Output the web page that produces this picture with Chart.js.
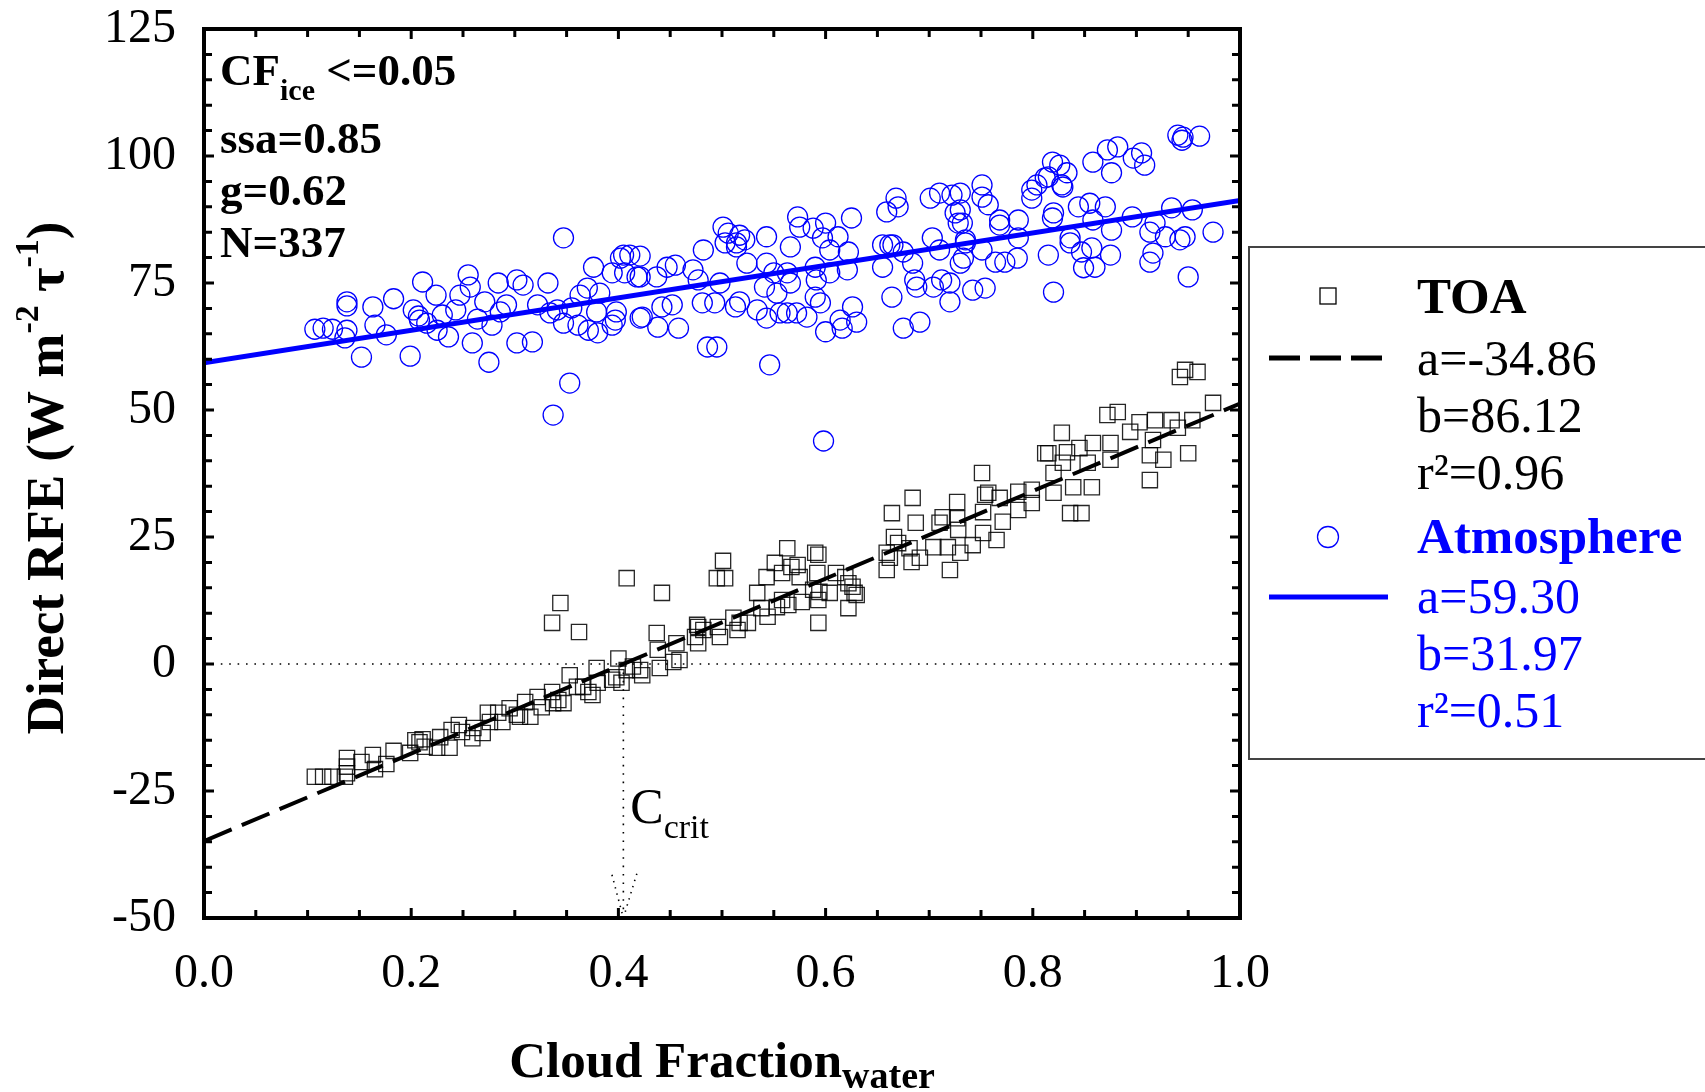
<!DOCTYPE html>
<html>
<head>
<meta charset="utf-8">
<script src="https://cdn.jsdelivr.net/npm/chart.js@4.4.0/dist/chart.umd.min.js"></script>
<style>
  html, body { margin: 0; padding: 0; background: #fff; }
  #wrap { width: 1705px; height: 1092px; position: relative; }
</style>
</head>
<body>
<div id="wrap"><canvas id="rfeChart" width="1705" height="1092"></canvas></div>
<script>
// values (cloud fraction vs direct RFE)
var atmX = [0.107,0.115,0.124,0.138,0.136,0.138,0.138,0.163,0.165,0.152,0.176,0.183,0.199,0.202,0.207,0.208,0.211,0.215,0.224,0.225,0.230,0.236,0.243,0.247,0.255,0.257,0.259,0.264,0.271,0.275,0.278,0.284,0.286,0.292,0.302,0.302,0.308,0.317,0.322,0.332,0.334,0.347,0.341,0.347,0.353,0.337,0.355,0.361,0.363,0.370,0.371,0.376,0.379,0.380,0.394,0.398,0.402,0.405,0.406,0.411,0.418,0.421,0.394,0.397,0.382,
  0.421,0.421,0.423,0.437,0.438,0.442,0.447,0.455,0.458,0.452,0.472,0.477,0.482,0.481,0.486,0.495,0.493,0.498,0.501,0.506,0.503,0.514,0.517,0.522,0.514,0.524,0.513,0.517,0.534,0.543,0.546,0.543,0.541,0.543,0.550,0.553,0.556,0.566,0.563,0.566,0.563,0.572,0.573,0.575,0.582,0.588,0.590,0.591,0.590,0.595,0.597,0.600,0.600,0.604,0.604,0.612,0.614,0.616,0.621,0.622,0.625,0.626,0.630,0.659,0.668,0.670,0.655,0.662,0.655,0.665,0.664,0.675,0.675,0.684,0.686,0.691,0.688,0.701,0.703,0.710,0.704,0.710,0.712,0.720,0.722,0.725,0.728,0.730,0.720,0.730,0.735,0.598,
  0.751,0.751,0.757,0.730,0.732,0.735,0.733,0.742,0.754,0.751,0.764,0.773,0.785,0.768,0.768,0.786,0.786,0.799,0.799,0.804,0.812,0.815,0.819,0.826,0.833,0.828,0.829,0.815,0.820,0.820,0.819,0.836,0.836,0.844,0.847,0.849,0.855,0.857,0.858,0.858,0.860,0.870,0.872,0.875,0.876,0.876,0.882,0.896,0.897,0.905,0.908,0.913,0.913,0.918,0.916,0.928,0.934,0.940,0.944,0.945,0.961,0.942,0.947,0.954,0.950,0.974];
var atmY = [65.9,66.1,65.9,65.7,64.2,71.3,70.5,70.3,66.7,60.4,64.8,71.9,60.6,69.7,68.5,67.7,75.2,67.1,72.6,65.7,68.7,64.4,69.7,72.6,76.6,74.2,63.2,67.9,71.3,59.4,66.7,75.0,69.3,70.7,75.6,63.2,74.6,63.4,70.7,75.0,69.1,83.9,69.7,67.1,55.3,49.0,70.1,66.7,72.6,74.0,65.7,78.1,69.3,65.2,77.0,69.3,79.9,80.5,77.0,80.5,76.2,68.1,66.7,67.7,73.0,
  80.3,76.2,68.3,76.2,66.3,70.3,78.1,78.5,66.1,70.7,77.6,75.6,81.5,71.1,62.4,62.4,71.1,75.0,86.0,84.8,82.9,82.9,84.4,83.5,82.1,78.9,70.3,71.3,69.7,84.1,58.9,68.1,74.2,78.9,77.0,73.0,69.1,82.1,77.0,75.0,69.1,69.1,88.0,86.0,68.3,85.8,78.1,75.6,72.2,71.1,83.9,86.8,65.4,81.5,77.0,84.1,67.7,66.1,77.6,81.1,87.8,70.3,67.3,89.0,91.7,90.0,82.5,82.5,78.1,82.5,72.2,81.1,66.1,78.9,75.6,67.3,74.2,91.7,83.9,92.7,74.2,81.5,75.6,71.3,92.3,88.8,86.8,92.7,75.0,78.9,82.9,43.9,
  94.3,91.9,90.4,89.4,86.8,83.5,79.9,73.6,74.0,81.5,79.1,79.1,79.9,87.4,86.4,87.4,83.9,91.7,93.3,94.3,95.7,95.9,98.8,98.2,96.7,94.3,93.9,80.5,73.2,88.8,87.8,83.9,82.9,90.0,81.1,78.0,90.7,81.9,87.4,98.8,78.1,90.0,101.2,80.5,85.4,96.7,101.8,88.0,99.6,100.6,98.2,85.0,79.1,86.8,80.9,84.1,89.8,104.1,103.1,103.7,103.9,83.5,84.1,89.4,76.2,85.0];

var toaX = [0.107,0.115,0.124,0.138,0.138,0.138,0.136,0.152,0.163,0.165,0.176,0.183,0.199,0.204,0.208,0.211,0.213,0.225,0.228,0.237,0.239,0.246,0.249,0.259,0.260,0.269,0.274,0.276,0.284,0.288,0.295,0.302,0.305,0.310,0.315,0.322,0.326,0.336,0.337,0.342,0.347,0.353,0.360,0.366,0.371,0.375,0.379,0.380,0.394,0.398,0.400,0.403,0.408,0.414,0.421,0.423,0.344,0.336,0.362,0.408,0.442,0.437,0.438,0.440,0.453,0.459,0.456,0.476,0.474,
  0.501,0.495,0.503,0.477,0.477,0.482,0.496,0.498,0.511,0.517,0.515,0.525,0.534,0.538,0.543,0.544,0.551,0.553,0.558,0.558,0.563,0.564,0.567,0.573,0.575,0.577,0.590,0.593,0.592,0.588,0.593,0.594,0.593,0.604,0.610,0.619,0.622,0.626,0.628,0.622,0.630,0.664,0.684,0.687,0.659,0.662,0.659,0.666,0.670,0.681,0.683,0.691,0.704,0.710,0.713,0.718,0.720,0.727,0.727,0.728,0.730,0.742,0.751,0.754,
  0.757,0.768,0.771,0.765,0.752,0.752,0.786,0.786,0.799,0.799,0.812,0.815,0.820,0.820,0.828,0.829,0.833,0.839,0.836,0.847,0.845,0.857,0.853,0.858,0.872,0.882,0.875,0.875,0.894,0.903,0.918,0.913,0.916,0.926,0.913,0.934,0.940,0.954,0.950,0.942,0.947,0.959,0.974];
var toaY = [-22.2,-22.2,-22.2,-18.5,-20.2,-21.5,-22.2,-19.3,-17.9,-20.7,-19.7,-17.1,-17.5,-15.0,-15.4,-14.8,-16.3,-16.5,-14.4,-16.5,-13.0,-12.0,-13.4,-14.6,-12.6,-13.6,-9.6,-11.4,-9.6,-11.4,-8.7,-10.0,-10.4,-7.5,-10.4,-6.5,-8.5,-5.5,-7.7,-7.1,-7.7,-2.2,-4.5,-4.5,-5.5,-6.1,-0.8,-3.7,-3.1,-2.6,1.1,-3.7,-1.2,-0.5,-1.2,-2.2,12.0,8.1,6.3,16.9,14.0,6.1,2.8,-0.8,0.4,0.8,4.1,7.7,5.3,
  20.3,16.9,16.9,7.3,4.1,6.7,7.3,5.3,9.1,8.1,6.7,8.1,14.0,11.0,17.1,9.3,19.9,11.2,17.9,12.6,22.8,11.6,19.1,19.5,17.1,12.2,21.9,21.5,17.9,14.6,12.6,14.2,8.1,14.0,17.9,17.1,15.9,15.2,14.0,11.0,13.6,29.7,32.7,27.8,21.9,20.9,18.5,25.0,23.8,22.8,20.1,20.9,23.0,27.8,28.9,23.0,18.5,31.9,28.7,26.4,21.9,23.4,37.6,33.3,
  33.7,32.7,28.0,24.4,29.9,25.8,33.9,30.3,34.3,31.7,41.5,41.5,37.6,33.7,45.5,39.6,41.7,34.8,29.7,29.7,42.5,34.8,39.6,43.5,49.0,49.6,43.5,40.2,45.7,47.6,48.0,41.1,44.1,40.2,36.2,48.0,46.5,48.0,41.5,56.5,57.9,57.5,51.4];

var toaFit = [-34.86, 86.12];   // a, b
var atmFit = [59.30, 31.97];
var toaStats = ["a=-34.86", "b=86.12", "r\u00b2=0.96"];
var atmStats = ["a=59.30", "b=31.97", "r\u00b2=0.51"];
var infoLines = ["ssa=0.85", "g=0.62", "N=337"];
var xTickVals = [0, 0.2, 0.4, 0.6, 0.8, 1.0];
var yTickVals = [-50, -25, 0, 25, 50, 75, 100, 125];

var cCrit = -toaFit[0] / toaFit[1];
var arrowX = [cCrit - 0.011, cCrit, cCrit + 0.014];
var arrowY = [-41.5, -50, -40.6];

var SERIF = "'Liberation Serif', 'Times New Roman', serif";
var BLUE = "#0000ff";

function pts(xs, ys) {
    return xs.map(function (x, i) { return { x: x, y: ys[i] }; });
}
function fitLine(c) {
    return [{ x: 0, y: c[0] }, { x: 1, y: c[0] + c[1] }];
}

// draws a run of text pieces (font / vertical shift) starting at x
function richText(ctx, parts, x, y, align) {
    var total = 0;
    parts.forEach(function (p) { ctx.font = p.f; total += ctx.measureText(p.t).width; });
    var cx = align === "center" ? x - total / 2 : x;
    ctx.textAlign = "left";
    ctx.textBaseline = "alphabetic";
    parts.forEach(function (p) {
        ctx.font = p.f;
        ctx.fillText(p.t, cx, y + (p.dy || 0));
        cx += ctx.measureText(p.t).width;
    });
}

var framePlugin = {
    id: "frame",
    afterDatasetsDraw(chart) {
        var ctx = chart.ctx, a = chart.chartArea, xs = chart.scales.x, ys = chart.scales.y;
        ctx.save();
        ctx.strokeStyle = "#000";
        ctx.lineWidth = 3;
        ctx.beginPath();
        for (var v = -50; v <= 125; v += 5) {
            var py = ys.getPixelForValue(v), len = v % 25 === 0 ? 10 : 8;
            ctx.moveTo(a.left, py); ctx.lineTo(a.left + len, py);
            ctx.moveTo(a.right, py); ctx.lineTo(a.right - len, py);
        }
        for (var i = 0; i <= 20; i++) {
            var px = xs.getPixelForValue(i * 0.05), l2 = i % 4 === 0 ? 10 : 8;
            ctx.moveTo(px, a.bottom); ctx.lineTo(px, a.bottom - l2);
            ctx.moveTo(px, a.top); ctx.lineTo(px, a.top + l2);
        }
        ctx.stroke();
        ctx.lineWidth = 4;
        ctx.strokeRect(a.left, a.top, a.right - a.left, a.bottom - a.top);
        ctx.restore();
    },
    afterDraw(chart) {
        var ctx = chart.ctx, a = chart.chartArea, xs = chart.scales.x;
        ctx.save();
        ctx.fillStyle = "#000";

        // x title with subscript
        richText(ctx, [
            { t: "Cloud Fraction", f: "bold 51px " + SERIF },
            { t: "water", f: "bold 38px " + SERIF, dy: 11 }
        ], (a.left + a.right) / 2, 1077, "center");

        // y title, rotated
        ctx.save();
        ctx.translate(63, 478);
        ctx.rotate(-Math.PI / 2);
        richText(ctx, [
            { t: "Direct RFE (W m", f: "bold 53px " + SERIF },
            { t: "-2", f: "bold 34px " + SERIF, dy: -25 },
            { t: " \u03c4", f: "bold 53px " + SERIF },
            { t: "-1", f: "bold 34px " + SERIF, dy: -25 },
            { t: ")", f: "bold 53px " + SERIF }
        ], 0, 0, "center");
        ctx.restore();

        // info block top-left
        richText(ctx, [
            { t: "CF", f: "bold 45px " + SERIF },
            { t: "ice", f: "bold 30px " + SERIF, dy: 15 },
            { t: " <=0.05", f: "bold 45px " + SERIF }
        ], 220, 85);
        infoLines.forEach(function (s, k) {
            richText(ctx, [{ t: s, f: "bold 45px " + SERIF }], 220, 153 + k * 52);
        });

        // C_crit label
        var cx = xs.getPixelForValue(cCrit);
        richText(ctx, [
            { t: "C", f: "50px " + SERIF },
            { t: "crit", f: "34px " + SERIF, dy: 15 }
        ], cx + 7, 823);

        // legend box
        ctx.strokeStyle = "#444";
        ctx.lineWidth = 2;
        ctx.strokeRect(1249, 247, 470, 512);

        ctx.lineWidth = 1.3;
        ctx.strokeStyle = "#000";
        ctx.strokeRect(1320, 288, 16, 16);
        richText(ctx, [{ t: "TOA", f: "bold 51px " + SERIF }], 1417, 313);
        ctx.beginPath();
        ctx.lineWidth = 5;
        ctx.setLineDash([31, 10]);
        ctx.moveTo(1269, 358); ctx.lineTo(1384, 358);
        ctx.stroke();
        ctx.setLineDash([]);
        toaStats.forEach(function (s, k) {
            richText(ctx, [{ t: s, f: "50px " + SERIF }], 1417, 375 + k * 57);
        });

        ctx.strokeStyle = BLUE;
        ctx.fillStyle = BLUE;
        ctx.lineWidth = 1.3;
        ctx.beginPath();
        ctx.arc(1328, 537, 10.5, 0, Math.PI * 2);
        ctx.stroke();
        richText(ctx, [{ t: "Atmosphere", f: "bold 51px " + SERIF }], 1417, 553);
        ctx.beginPath();
        ctx.lineWidth = 5;
        ctx.moveTo(1269, 597); ctx.lineTo(1388, 597);
        ctx.stroke();
        atmStats.forEach(function (s, k) {
            richText(ctx, [{ t: s, f: "50px " + SERIF }], 1417, 613 + k * 57);
        });
        ctx.restore();
    }
};

var dotted = { borderColor: "#000", borderWidth: 1.6, borderDash: [1.6, 6.8], pointRadius: 0, fill: false, tension: 0, order: 1 };

var ctx = document.getElementById("rfeChart");
var myChart = new Chart(ctx, {
    type: "scatter",
    data: {
        datasets: [
            Object.assign({ type: "line", label: "zero", data: [{ x: 0, y: 0 }, { x: 1, y: 0 }] }, dotted),
            Object.assign({ type: "line", label: "ccrit", data: [{ x: cCrit, y: 0 }, { x: cCrit, y: -50 }] }, dotted),
            Object.assign({ type: "line", label: "arrow", data: pts(arrowX, arrowY) }, dotted, { borderDash: [1.4, 5] }),
            { type: "line", label: "TOA fit", data: fitLine(toaFit), borderColor: "#000", borderWidth: 4, borderDash: [30, 11], pointRadius: 0, fill: false, order: 0 },
            { type: "line", label: "Atmosphere fit", data: fitLine(atmFit), borderColor: BLUE, borderWidth: 5, pointRadius: 0, fill: false, order: 0 },
            { label: "TOA", data: pts(toaX, toaY), pointStyle: "rect", pointRadius: 10.8, borderColor: "rgba(0,0,0,0.85)", backgroundColor: "rgba(0,0,0,0)", borderWidth: 1.3, order: 2 },
            { label: "Atmosphere", data: pts(atmX, atmY), pointStyle: "circle", pointRadius: 10, borderColor: BLUE, backgroundColor: "rgba(0,0,0,0)", borderWidth: 1.3, order: 2 }
        ]
    },
    options: {
        responsive: false,
        animation: false,
        events: [],
        layout: { padding: { left: 0, top: 29, right: 465, bottom: 0 } },
        plugins: { legend: { display: false }, tooltip: { enabled: false } },
        scales: {
            x: {
                type: "linear", min: 0, max: 1,
                afterBuildTicks: function (s) { s.ticks = xTickVals.map(function (v) { return { value: v }; }); },
                afterFit: function (s) { s.height = 174; s.paddingLeft = 0; s.paddingRight = 0; },
                grid: { display: false, drawTicks: false },
                border: { display: false },
                ticks: { color: "#000", padding: 28, maxRotation: 0, font: { family: SERIF, size: 48 },
                    callback: function (v) { return Number(v).toFixed(1); } }
            },
            y: {
                type: "linear", min: -50, max: 125,
                afterBuildTicks: function (s) { s.ticks = yTickVals.map(function (v) { return { value: v }; }); },
                afterFit: function (s) { s.width = 204; s.paddingTop = 0; s.paddingBottom = 0; },
                grid: { display: false, drawTicks: false },
                border: { display: false },
                ticks: { color: "#000", padding: 28, font: { family: SERIF, size: 48 } }
            }
        }
    },
    plugins: [framePlugin]
});
</script>
</body>
</html>
